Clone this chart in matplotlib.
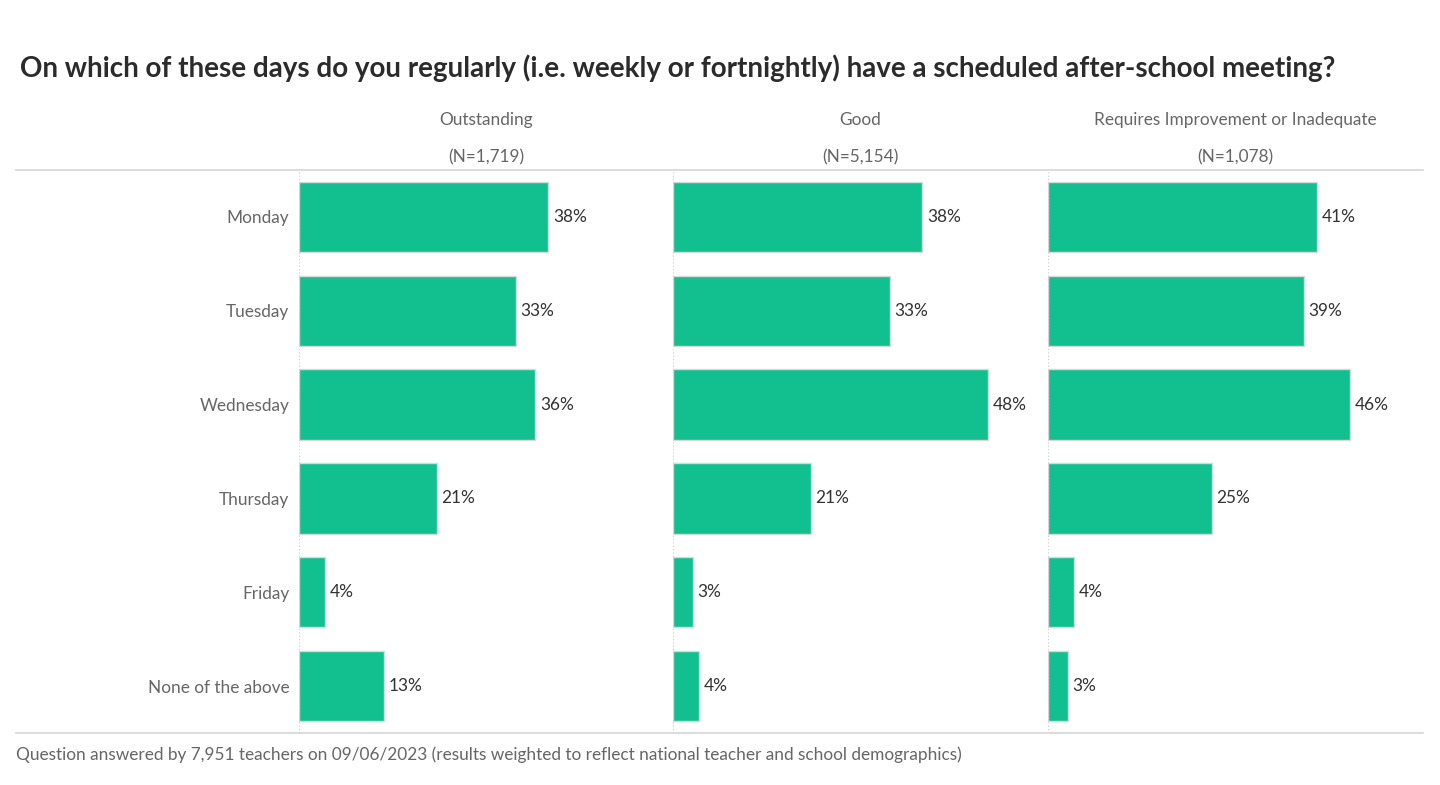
import matplotlib
matplotlib.use("Agg")
import matplotlib.pyplot as plt
from matplotlib.lines import Line2D

plt.rcParams['font.family'] = ['Lato', 'DejaVu Sans']

# ── DATA ──────────────────────────────────────────
days = ["Monday", "Tuesday", "Wednesday", "Thursday", "Friday", "None of the above"]
groups = ["Outstanding", "Good", "Requires Improvement or Inadequate"]
group_n = ["(N=1,719)", "(N=5,154)", "(N=1,078)"]
outstanding = [38, 33, 36, 21, 4, 13]
good = [38, 33, 48, 21, 3, 4]
requires_improvement = [41, 39, 46, 25, 4, 3]
series = [outstanding, good, requires_improvement]

BAR = '#12BF8F'
GREY = '#666666'
DARK = '#333333'
FS = 12.4

# ── FIGURE ────────────────────────────────────────
W, H = 1440, 785
fig = plt.figure(figsize=(W / 100, H / 100), dpi=100)

def fx(px):
    return px / W

def fy(py):
    return 1 - py / H

top, bottom = 170, 733
panel_left = [299, 673, 1048]
panel_w = 374

fig.text(fx(20), fy(68), "On which of these days do you regularly (i.e. weekly or fortnightly) "
         "have a scheduled after-school meeting?",
         fontsize=20, fontweight='bold', color='#2b2b2b', va='center', ha='left')

for k, (vals, name, n) in enumerate(zip(series, groups, group_n)):
    ax = fig.add_axes([fx(panel_left[k]), fy(bottom), fx(panel_w), (bottom - top) / H])
    y = range(len(days))
    ax.barh(y, vals, height=0.75, color=BAR, edgecolor='#d9d9d9', linewidth=1)
    ax.set_xlim(0, 57)
    ax.set_ylim(len(days) - 0.5, -0.5)
    for i, v in enumerate(vals):
        ax.text(v + 0.7, i, f"{v}%", va='center', ha='left', fontsize=FS, color=DARK)
    ax.axvline(0, color='#cccccc', linestyle=(0, (1, 2)), linewidth=0.8)
    for s in ax.spines.values():
        s.set_visible(False)
    ax.set_xticks([])
    if k == 0:
        ax.set_yticks(list(y))
        ax.set_yticklabels(days, fontsize=FS, color=GREY)
        ax.tick_params(axis='y', length=0, pad=7)
    else:
        ax.set_yticks([])
    cx = fx(panel_left[k] + panel_w / 2)
    fig.text(cx, fy(120), name, ha='center', va='center', fontsize=FS, color=GREY)
    fig.text(cx, fy(157), n, ha='center', va='center', fontsize=FS, color=GREY)

# horizontal frame lines
for py in (top, bottom):
    fig.add_artist(Line2D([fx(16), fx(1423)], [fy(py), fy(py)], color='#d6d6d6', linewidth=1.2))

fig.text(fx(16), fy(755), "Question answered by 7,951 teachers on 09/06/2023 (results weighted to "
         "reflect national teacher and school demographics)",
         fontsize=FS, color=GREY, va='center', ha='left')

fig.savefig("out.png", dpi=100, facecolor='white')
